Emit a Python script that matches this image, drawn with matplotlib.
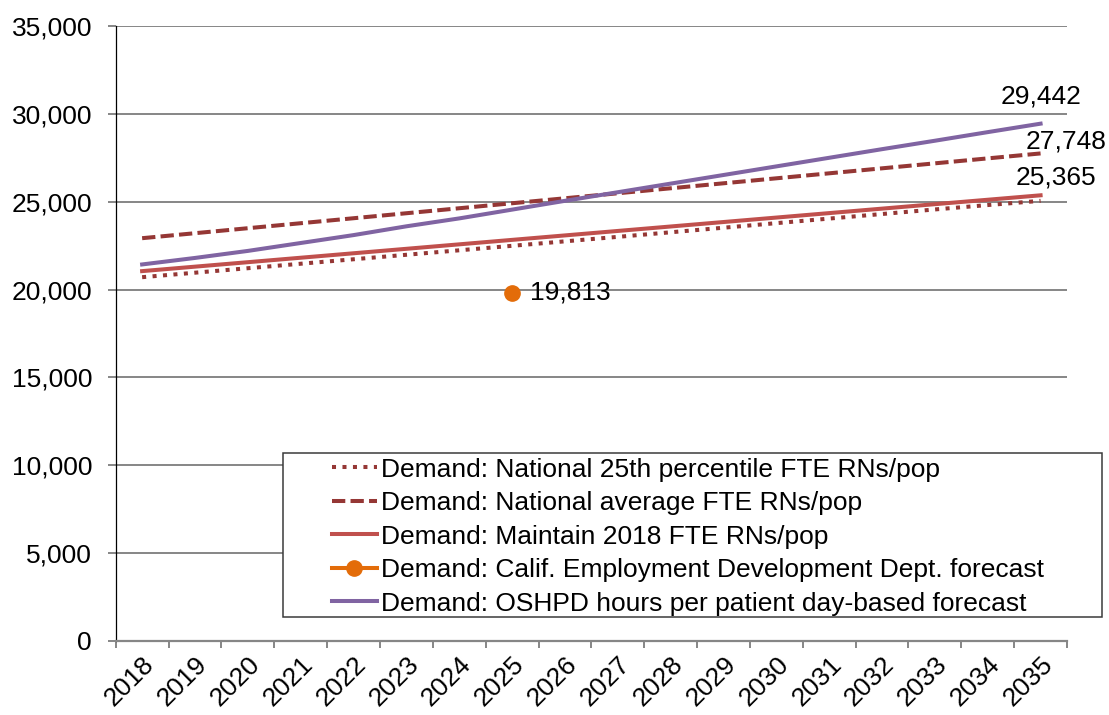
import matplotlib.pyplot as plt
from matplotlib.patches import Rectangle
from matplotlib.ticker import FuncFormatter, FixedLocator
from matplotlib.transforms import ScaledTranslation

plt.rcParams['font.family'] = ['Liberation Sans', 'DejaVu Sans']

years = [str(y) for y in range(2018, 2036)]
natl_25th = [20705, 20960, 21215, 21470, 21725, 21980, 22235, 22490, 22745,
             23000, 23260, 23520, 23780, 24040, 24300, 24560, 24810, 25050]
natl_avg = [22924, 23208, 23492, 23776, 24060, 24344, 24628, 24912, 25196,
            25480, 25764, 26048, 26332, 26616, 26900, 27184, 27466, 27748]
maintain_2018 = [21050, 21304, 21558, 21812, 22066, 22320, 22574, 22828, 23082,
                 23336, 23590, 23844, 24098, 24352, 24606, 24860, 25112, 25365]
oshpd = [21430, 21800, 22200, 22650, 23100, 23600, 24050, 24550, 25050,
         25540, 26030, 26520, 27010, 27500, 27990, 28470, 28960, 29442]
edd_year = "2025"
edd_value = 19813

dark_red = '#953735'
red = '#C0504D'
purple = '#8064A2'
orange = '#E36C09'
grid_gray = '#868686'
fs = 19

W, H = 1109, 715
fig = plt.figure(figsize=(W / 100, H / 100), dpi=100)
ax = fig.add_axes([115.7 / W, 74 / H, (1067 - 115.7) / W, 615 / H])

x = list(range(len(years)))
lw = 2.9
ax.plot(x, natl_25th, color=dark_red, lw=lw, linestyle=(0, (1, 1.6)),
        label='Demand: National 25th percentile FTE RNs/pop', zorder=3)
ax.plot(x, natl_avg, color=dark_red, lw=lw, linestyle=(0, (3.3, 1.3)),
        label='Demand: National average FTE RNs/pop', zorder=3)
ax.plot(x, maintain_2018, color=red, lw=lw,
        label='Demand: Maintain 2018 FTE RNs/pop', zorder=3)
ex = years.index(edd_year)
ax.plot([ex], [edd_value], color=orange, lw=lw, marker='o', markersize=11,
        label='Demand: Calif. Employment Development Dept. forecast', zorder=4)
ax.plot(x, oshpd, color=purple, lw=lw,
        label='Demand: OSHPD hours per patient day-based forecast', zorder=3)

fmt = lambda v: f"{v:,.0f}"
def label(xv, yv, dx, dy, ha='center'):
    ax.annotate(fmt(yv), (xv, yv), xytext=(dx, dy), textcoords='offset pixels',
                ha=ha, va='center', fontsize=fs)

label(x[-1], oshpd[-1], 0, 27)
label(x[-1], natl_avg[-1], 25, 12)
label(x[-1], maintain_2018[-1], 15, 18)
label(ex, edd_value, 18, 0, ha='left')

ax.set_xlim(-0.5, len(years) - 0.5)
ax.set_ylim(0, 35000)
ax.set_yticks(range(0, 35001, 5000))
ax.yaxis.set_major_formatter(FuncFormatter(lambda v, p: fmt(v)))
ax.grid(axis='y', color=grid_gray, lw=1.4, zorder=0)

ax.set_xticks(x)
ax.set_xticklabels(years, rotation=45, ha='right', va='top', rotation_mode='anchor')
shift = ScaledTranslation(-0.03, 0, fig.dpi_scale_trans)
for t in ax.get_xticklabels():
    t.set_transform(t.get_transform() + shift)
ax.xaxis.set_minor_locator(FixedLocator([i - 0.5 for i in range(len(years) + 1)]))
ax.tick_params(axis='x', which='major', length=0, pad=8, labelsize=fs)
ax.tick_params(axis='x', which='minor', length=5, color=grid_gray, width=1.4)
ax.tick_params(axis='y', length=6, color=grid_gray, width=1.4, labelsize=fs, pad=11)

for s in ['top', 'right']:
    ax.spines[s].set_visible(False)
ax.spines['left'].set_color('black')
ax.spines['left'].set_linewidth(0.9)
ax.spines['bottom'].set_color(grid_gray)
ax.spines['bottom'].set_linewidth(1.6)

# legend frame drawn separately (handles sit well inside the box)
box = Rectangle((283 / W, 1 - 617 / H), (1102 - 283) / W, (617 - 453) / H,
                transform=fig.transFigure, facecolor='white', edgecolor='#3a3a3a',
                lw=1.1, zorder=2)
fig.patches.append(box)

handles, labels = ax.get_legend_handles_labels()
fig.legend(handles, labels, loc='center left',
           bbox_to_anchor=(331.7 / W, 1 - 536.7 / H), fontsize=fs,
           frameon=False, handlelength=1.7, handletextpad=0.18,
           labelspacing=0.36, borderpad=0, borderaxespad=0)

fig.savefig('out.png', dpi=100)
